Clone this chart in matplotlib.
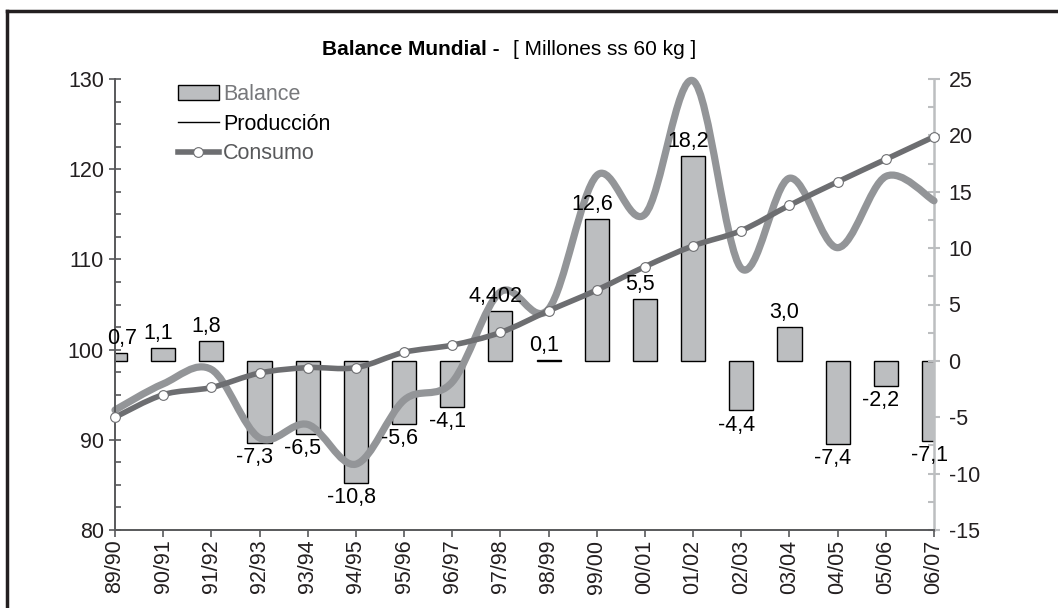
import numpy as np
import matplotlib
matplotlib.use("Agg")
import matplotlib.pyplot as plt
from matplotlib.path import Path
from matplotlib.patches import PathPatch, Patch
from matplotlib.lines import Line2D
from matplotlib.ticker import MultipleLocator

plt.rcParams['font.family'] = ['Liberation Sans', 'DejaVu Sans']
plt.rcParams['axes.unicode_minus'] = False

# campañas cafeteras
seasons = ["89/90", "90/91", "91/92", "92/93", "93/94", "94/95", "95/96", "96/97", "97/98",
           "98/99", "99/00", "00/01", "01/02", "02/03", "03/04", "04/05", "05/06", "06/07"]
balance = [0.7, 1.1, 1.8, -7.3, -6.5, -10.8, -5.6, -4.1, 4.402,
           0.1, 12.6, 5.5, 18.2, -4.4, 3.0, -7.4, -2.2, -7.1]
balance_labels = ["0,7", "1,1", "1,8", "-7,3", "-6,5", "-10,8", "-5,6", "-4,1", "4,402",
                  "0,1", "12,6", "5,5", "18,2", "-4,4", "3,0", "-7,4", "-2,2", "-7,1"]
produccion = [93.3, 96.2, 97.8, 90.2, 91.7, 87.3, 94.4, 96.4, 106.4,
              104.5, 119.3, 115.0, 129.8, 109.0, 119.0, 111.3, 119.2, 116.5]
consumo = [92.5, 95.0, 95.8, 97.4, 98.0, 98.0, 99.7, 100.5, 101.9,
           104.3, 106.6, 109.2, 111.5, 113.2, 116.0, 118.6, 121.1, 123.6]

C_BAR = "#bcbec0"
C_PROD = "#939598"
C_CONS = "#6d6e71"
C_AXIS = "#58595b"
C_TEXT = "#231f20"
FS = 15.5


def smooth_path(xs, ys):
    # curva suavizada tipo Excel (bezier por los puntos)
    xs = np.asarray(xs, float)
    ys = np.asarray(ys, float)
    n = len(xs)
    verts = [(xs[0], ys[0])]
    codes = [Path.MOVETO]
    for i in range(n - 1):
        p0 = np.array([xs[max(i - 1, 0)], ys[max(i - 1, 0)]])
        p1 = np.array([xs[i], ys[i]])
        p2 = np.array([xs[i + 1], ys[i + 1]])
        p3 = np.array([xs[min(i + 2, n - 1)], ys[min(i + 2, n - 1)]])
        c1 = p1 + (p2 - p0) / 6.0
        c2 = p2 - (p3 - p1) / 6.0
        verts += [tuple(c1), tuple(c2), tuple(p2)]
        codes += [Path.CURVE4] * 3
    return Path(verts, codes)


fig = plt.figure(figsize=(10.58, 6.08), dpi=100)
ax = fig.add_axes([115 / 1058, 1 - 530 / 608, (934 - 115) / 1058, (530 - 79) / 608])
ax2 = ax.twinx()
ax.set_zorder(ax2.get_zorder() + 1)
ax.patch.set_visible(False)

x = np.arange(len(seasons))

# barras del balance (eje derecho)
ax2.bar(x, balance, width=0.5, color=C_BAR, edgecolor="black", linewidth=1.0)
ax2.set_ylim(-15, 25)
ax2.yaxis.set_major_locator(MultipleLocator(5))
ax2.yaxis.set_minor_locator(MultipleLocator(2.5))

# produccion y consumo (eje izquierdo)
prod_patch = PathPatch(smooth_path(x, produccion), fill=False, edgecolor=C_PROD,
                       linewidth=5.2, capstyle="round", joinstyle="round", clip_on=False)
ax.add_patch(prod_patch)
cons_patch = PathPatch(smooth_path(x, consumo), fill=False, edgecolor=C_CONS,
                       linewidth=4.0, capstyle="butt", joinstyle="round", clip_on=False)
ax.add_patch(cons_patch)
ax.plot(x, consumo, linestyle="none", marker="o", markersize=7, markerfacecolor="white",
        markeredgecolor=C_CONS, markeredgewidth=0.8, clip_on=False, zorder=5)

ax.set_xlim(0, len(seasons) - 1)
ax.set_ylim(80, 130)
ax.yaxis.set_major_locator(MultipleLocator(10))
ax.yaxis.set_minor_locator(MultipleLocator(2.5))

# etiquetas de datos
for i, (v, lbl) in enumerate(zip(balance, balance_labels)):
    dx = 5 if i == 0 else -3.5   # la primera queda dentro del area
    if v >= 0:
        ax.annotate(lbl, xy=(i, v), xycoords=ax2.transData, xytext=(dx, 6.5),
                    textcoords="offset points", ha="center", va="baseline",
                    fontsize=FS, color="black", zorder=10, annotation_clip=False)
    else:
        ax.annotate(lbl, xy=(i, v), xycoords=ax2.transData, xytext=(dx, -3.0),
                    textcoords="offset points", ha="center", va="top",
                    fontsize=FS, color="black", zorder=10, annotation_clip=False)

# ejes
ax.set_xticks(x)
ax.set_xticklabels(seasons, rotation=90, fontsize=FS, color=C_TEXT)
ax.tick_params(axis="x", direction="out", length=5, width=1.2, color=C_AXIS, pad=2)
ax.tick_params(axis="y", which="major", direction="inout", length=8, width=1.2,
               color=C_AXIS, labelsize=FS, labelcolor=C_TEXT, pad=4)
ax.tick_params(axis="y", which="minor", direction="in", length=4, width=1.2, color=C_AXIS)
ax2.tick_params(axis="y", which="major", direction="inout", length=9, width=1.5,
                color=C_BAR, labelsize=FS, labelcolor=C_TEXT, pad=6)
ax2.tick_params(axis="y", which="minor", direction="in", length=4, width=1.5, color=C_BAR)

for a in (ax, ax2):
    a.spines["top"].set_visible(False)
ax.spines["right"].set_visible(False)
ax.spines["left"].set_color(C_AXIS)
ax.spines["left"].set_linewidth(1.4)
ax.spines["bottom"].set_color(C_AXIS)
ax.spines["bottom"].set_linewidth(1.4)
ax2.spines["left"].set_visible(False)
ax2.spines["bottom"].set_visible(False)
ax2.spines["right"].set_color(C_BAR)
ax2.spines["right"].set_linewidth(1.8)

# leyenda
handles = [
    Patch(facecolor=C_BAR, edgecolor="black", linewidth=1.0),
    Line2D([], [], color="black", linewidth=1.0),
    Line2D([], [], color=C_CONS, linewidth=4.0, marker="o", markersize=7,
           markerfacecolor="white", markeredgecolor=C_CONS, markeredgewidth=0.8),
]
leg = fig.legend(handles, ["Balance", "Producción", "Consumo"], loc="upper left",
                 bbox_to_anchor=(178 / 1058, 1 - 84 / 608), frameon=False, fontsize=FS,
                 handlelength=1.9, handleheight=0.75, handletextpad=0.2,
                 labelspacing=0.4, borderpad=0, borderaxespad=0)
for t, c in zip(leg.get_texts(), ["#77787b", "black", "#58595b"]):
    t.set_color(c)

# titulo
fig.text(500 / 1058, 1 - 55 / 608, "Balance Mundial -", fontsize=15, fontweight="bold",
         ha="right", va="baseline", color="black")
fig.text(513 / 1058, 1 - 55 / 608, "[ Millones ss 60 kg ]", fontsize=15,
         ha="left", va="baseline", color="black")

# marco exterior
fig.add_artist(Line2D([7 / 1058, 1], [1 - 11 / 608, 1 - 11 / 608], color="#231f20",
                      linewidth=2.5, transform=fig.transFigure))
fig.add_artist(Line2D([7 / 1058, 7 / 1058], [0, 1 - 11 / 608], color="#231f20",
                      linewidth=2.5, transform=fig.transFigure))

fig.savefig("out.png", dpi=100)
